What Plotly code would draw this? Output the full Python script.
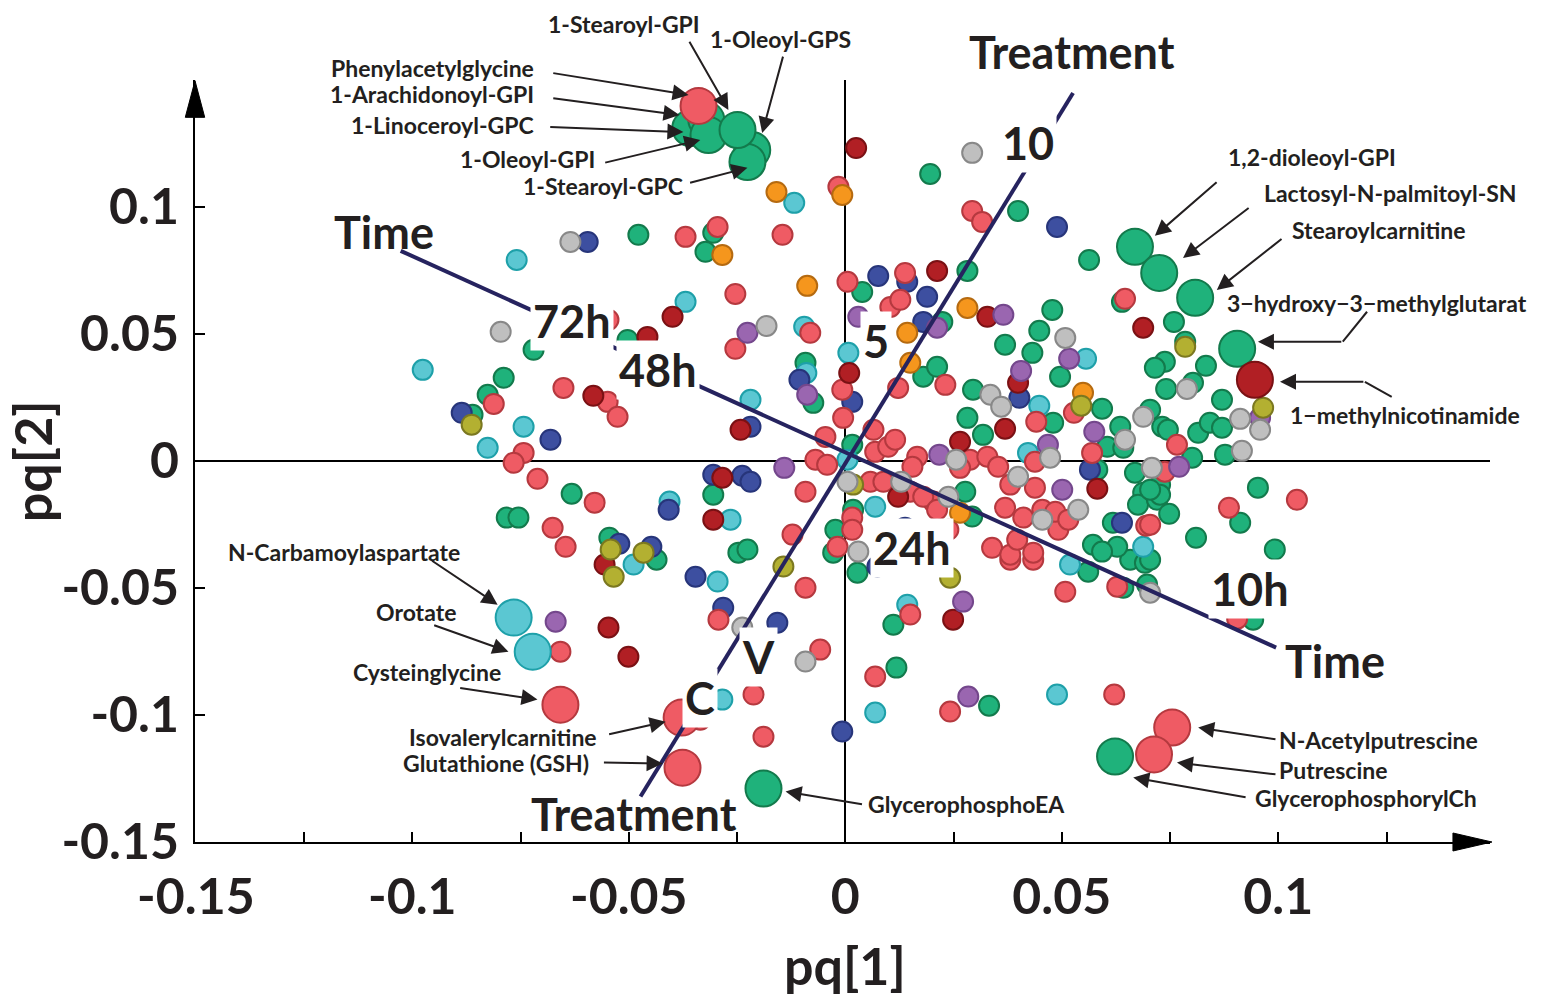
import plotly.graph_objects as go

FONT = "Lato"
INK = "#231f20"

# ---------------- data (pq[1], pq[2]) ----------------
green_pts = [(-0.0478, 0.0890), (-0.0305, 0.0898), (-0.0323, 0.0823), (0.0196, 0.1130), (0.0399, 0.0984),
             (0.0563, 0.0791), (0.0282, 0.0748), (0.0039, 0.0665), (0.0478, 0.0594), (0.0639, 0.0626),
             (0.0759, 0.0547), (0.0224, 0.0547), (-0.0720, 0.0437), (-0.0503, 0.0476), (-0.0789, 0.0327),
             (-0.0826, 0.0260), (-0.0861, 0.0181), (-0.0632, -0.0130), (-0.0782, -0.0224), (-0.0755, -0.0224),
             (-0.0545, -0.0303), (-0.0436, -0.0390), (-0.0092, 0.0386), (-0.0074, 0.0228), (0.0016, 0.0063),
             (-0.0305, -0.0134), (0.0018, -0.0193), (-0.0023, -0.0272), (-0.0028, -0.0362), (-0.0247, -0.0362),
             (-0.0226, -0.0350), (0.0028, -0.0441), (0.0180, 0.0331), (0.0212, 0.0370), (0.0295, 0.0280),
             (0.0282, 0.0169), (0.0293, -0.0220), (0.0111, -0.0646), (0.0118, -0.0815), (0.0332, -0.0965),
             (0.0561, -0.0437), (0.0642, -0.0500), (0.0697, -0.0488), (0.0658, -0.0390), (0.0692, -0.0402),
             (0.0448, 0.0512), (0.0369, 0.0457), (0.0432, 0.0425), (0.0496, 0.0331), (0.0318, 0.0102),
             (0.0480, 0.0150), (0.0593, 0.0205), (0.0605, 0.0055), (0.0642, 0.0051), (0.0635, 0.0134),
             (0.0704, 0.0201), (0.0732, 0.0134), (0.0745, 0.0122), (0.0801, 0.0012), (0.0669, -0.0047),
             (0.0727, -0.0094), (0.0688, -0.0126), (0.0676, -0.0173), (0.0720, -0.0154), (0.0748, -0.0209),
             (0.0618, -0.0244), (0.0628, -0.0339), (0.0572, -0.0331), (0.0912, -0.0244), (0.0953, -0.0106),
             (0.0810, -0.0303), (0.0992, -0.0350), (0.0738, 0.0390), (0.0785, 0.0469), (0.0715, 0.0366),
             (0.0741, 0.0283), (0.0803, 0.0307), (0.0833, 0.0374), (0.0870, 0.0240), (0.0815, 0.0110),
             (0.0842, 0.0150), (0.0877, 0.0024), (0.0593, -0.0358), (0.0582, -0.0035), (0.0870, 0.0130),
             (0.0727, -0.0134), (0.0704, -0.0114), (0.0704, -0.0390), (0.0942, -0.0626), (0.0277, -0.0122)]

red_pts = [(-0.0016, 0.1079), (0.0293, 0.0984), (0.0316, 0.0941), (-0.0295, 0.0921), (-0.0369, 0.0882),
           (-0.0145, 0.0890), (0.0005, 0.0705), (-0.0254, 0.0657), (0.0138, 0.0740), (0.0646, 0.0638),
           (-0.0547, 0.0555), (0.0104, 0.0606), (0.0127, 0.0634), (-0.0254, 0.0441), (-0.0081, 0.0504),
           (-0.0007, 0.0280), (-0.0005, 0.0169), (-0.0046, 0.0094), (0.0065, 0.0122), (0.0069, 0.0035),
           (0.0099, 0.0055), (0.0115, 0.0083), (-0.0069, 0.0004), (-0.0042, -0.0016), (-0.0092, -0.0122),
           (0.0058, -0.0083), (0.0088, -0.0083), (0.0150, -0.0122), (0.0166, 0.0016), (0.0155, -0.0024),
           (0.0288, 0.0004), (0.0265, -0.0028), (0.0203, -0.0161), (0.0180, -0.0142), (0.0212, -0.0193),
           (-0.0122, -0.0291), (0.0016, -0.0224), (0.0016, -0.0272), (-0.0018, -0.0339), (0.0231, 0.0299),
           (0.0122, 0.0287), (-0.0812, 0.0224), (-0.0651, 0.0287), (-0.0549, 0.0232), (-0.0526, 0.0173),
           (-0.0743, 0.0031), (-0.0766, -0.0008), (-0.0711, -0.0071), (-0.0579, -0.0165), (-0.0676, -0.0264),
           (-0.0646, -0.0339), (-0.0658, -0.0752), (-0.0293, -0.0626), (-0.0092, -0.0500), (-0.0058, -0.0744),
           (-0.0212, -0.0921), (-0.0335, -0.1020), (-0.0189, -0.1087), (0.0150, -0.0606), (0.0069, -0.0850),
           (0.0242, -0.0988), (0.0621, -0.0921), (0.0508, -0.0516), (0.0628, -0.0496), (0.0381, -0.0390),
           (0.0434, -0.0390), (0.0441, 0.0154), (0.0528, 0.0189), (0.0570, 0.0031), (0.0438, -0.0004),
           (0.0766, 0.0063), (0.0738, -0.0043), (0.0695, -0.0256), (0.0886, -0.0185), (0.0328, 0.0016),
           (0.0353, -0.0024), (0.0381, -0.0094), (0.0438, -0.0106), (0.0369, -0.0185), (0.0411, -0.0224),
           (0.0455, -0.0193), (0.0492, -0.0272), (0.0485, -0.0201), (0.0515, -0.0232), (0.0339, -0.0343),
           (0.0381, -0.0370), (0.0434, -0.0362), (0.0397, -0.0311), (0.1043, -0.0154), (0.0905, -0.0622),
           (0.0704, -0.0252), (0.0238, -0.0272)]

darkred_pts = [(0.0025, 0.1232), (0.0212, 0.0748), (0.0328, 0.0567), (0.0688, 0.0524), (-0.0399, 0.0567),
               (-0.0457, 0.0488), (0.0009, 0.0346), (-0.0242, 0.0122), (-0.0284, -0.0067), (-0.0305, -0.0232),
               (0.0122, -0.0142), (0.0265, 0.0075), (-0.0582, 0.0256), (-0.0556, -0.0409), (-0.0547, -0.0657),
               (-0.0501, -0.0772), (0.0249, -0.0626), (0.0399, 0.0307), (0.0369, 0.0126), (0.0582, -0.0110)]

grey_pts = [(0.0293, 0.1213), (-0.0635, 0.0862), (-0.0182, 0.0531), (-0.0796, 0.0508), (0.0005, -0.0083),
            (0.0129, -0.0083), (0.0256, 0.0004), (0.0238, -0.0142), (0.0030, -0.0358), (-0.0238, -0.0657),
            (-0.0092, -0.0791), (0.0704, -0.0520), (0.0508, 0.0484), (0.0335, 0.0260), (0.0360, 0.0213),
            (0.0473, 0.0012), (0.0646, 0.0083), (0.0688, 0.0173), (0.0708, -0.0028), (0.0789, 0.0283),
            (0.0916, 0.0039), (0.0912, 0.0165), (0.0958, 0.0122), (0.0399, -0.0063), (0.0455, -0.0232),
            (0.0538, -0.0193)]

cyan_pts = [(-0.0118, 0.1016), (-0.0759, 0.0791), (-0.0369, 0.0626), (-0.0095, 0.0528), (-0.0090, 0.0346),
            (0.0007, 0.0425), (-0.0219, 0.0240), (0.0005, 0.0004), (-0.0265, -0.0232), (0.0069, -0.0181),
            (-0.0295, -0.0476), (-0.0976, 0.0358), (-0.0743, 0.0134), (-0.0826, 0.0051), (-0.0489, -0.0409),
            (-0.0406, -0.0161), (-0.0284, -0.0941), (0.0143, -0.0567), (0.0069, -0.0992), (0.0489, -0.0921),
            (0.0519, -0.0409), (0.0556, 0.0402), (0.0448, 0.0217), (0.0422, 0.0031), (0.0688, -0.0339)]

blue_pts = [(-0.0595, 0.0862), (0.0489, 0.0921), (0.0076, 0.0728), (0.0143, 0.0705), (0.0189, 0.0646),
            (0.0180, 0.0547), (-0.0106, 0.0319), (0.0016, 0.0232), (-0.0219, 0.0134), (-0.0305, -0.0055),
            (-0.0238, -0.0059), (-0.0219, -0.0083), (-0.0346, -0.0457), (0.0074, -0.0417), (-0.0886, 0.0189),
            (-0.0681, 0.0083), (-0.0522, -0.0327), (-0.0448, -0.0339), (-0.0408, -0.0193), (-0.0282, -0.0579),
            (-0.0157, -0.0638), (-0.0007, -0.1067), (0.0402, 0.0248), (0.0639, -0.0244), (0.0565, -0.0035),
            (0.0138, -0.0264)]

orange_pts = [(-0.0007, 0.1047), (-0.0159, 0.1059), (-0.0284, 0.0811), (-0.0088, 0.0689), (0.0282, 0.0602),
              (0.0150, 0.0386), (0.0143, 0.0504), (0.0265, -0.0205), (0.0549, 0.0268)]

purple_pts = [(0.0212, 0.0524), (0.0365, 0.0575), (0.0030, 0.0567), (-0.0226, 0.0504), (-0.0088, 0.0260),
              (-0.0141, -0.0028), (0.0217, 0.0024), (-0.0669, -0.0634), (0.0272, -0.0555), (0.0284, -0.0929),
              (0.0517, 0.0402), (0.0406, 0.0354), (0.0575, 0.0114), (0.0468, 0.0063), (0.0771, -0.0024),
              (0.0501, -0.0114), (0.0958, 0.0169)]

olive_pts = [(0.0018, -0.0094), (-0.0143, -0.0417), (-0.0863, 0.0142), (-0.0542, -0.0350), (-0.0535, -0.0457),
             (-0.0466, -0.0362), (0.0242, -0.0461), (0.0545, 0.0217), (0.0785, 0.0449), (0.0965, 0.0209)]

# highlighted metabolites (large markers)
big_green_names = ["1-Linoceroyl-GPC", "1-Arachidonoyl-GPI", "1-Oleoyl-GPI", "1-Oleoyl-GPS", "1-Stearoyl-GPC",
                   "1-Stearoyl-GPI", "1,2-dioleoyl-GPI", "Lactosyl-N-palmitoyl-SN", "Stearoylcarnitine",
                   "3-hydroxy-3-methylglutarat", "GlycerophosphoEA", "GlycerophosphorylCh"]
big_green_x = [-0.0358, -0.0321, -0.0316, -0.0215, -0.0226, -0.0249, 0.0669, 0.0725, 0.0808, 0.0905, -0.0189, 0.0623]
big_green_y = [0.1311, 0.1343, 0.1283, 0.1224, 0.1177, 0.1303, 0.0843, 0.0740, 0.0642, 0.0441, -0.1291, -0.1165]

big_red_names = ["Phenylacetylglycine", "Cysteinglycine", "Isovalerylcarnitine", "Glutathione (GSH)",
                 "N-Acetylputrescine", "Putrescine"]
big_red_x = [-0.0339, -0.0658, -0.0378, -0.0376, 0.0755, 0.0713]
big_red_y = [0.1398, -0.0961, -0.1012, -0.1209, -0.1051, -0.1157]

big_cyan_names = ["N-Carbamoylaspartate", "Orotate"]
big_cyan_x = [-0.0766, -0.0722]
big_cyan_y = [-0.0618, -0.0752]

big_darkred_names = ["1-methylnicotinamide"]
big_darkred_x = [0.0946]
big_darkred_y = [0.0319]

# biplot direction lines
treatment_x = [-0.0473, 0.0526]
treatment_y = [-0.1323, 0.1449]
time_x = [-0.1027, 0.0995]
time_y = [0.0827, -0.0736]

# axis ticks
tick_vals = [-0.15, -0.1, -0.05, 0, 0.05, 0.1]
tick_text = ["-0.15", "-0.1", "-0.05", "0", "0.05", "0.1"]

X_RANGE = [-0.1502, 0.1489]
Y_RANGE = [-0.1502, 0.15]

# ---------------- figure ----------------
STY = {
    "green": ("#1fb27b", "#137a4c"),
    "red": ("#ef5b64", "#b5393f"),
    "darkred": ("#b11f24", "#7a1114"),
    "grey": ("#bfbfbf", "#888888"),
    "cyan": ("#5bc7d2", "#1ea0a9"),
    "blue": ("#3d4fa0", "#27357a"),
    "orange": ("#f5961d", "#b56a10"),
    "purple": ("#9a66b0", "#74478c"),
    "olive": ("#b3b031", "#7b7820"),
}

fig = go.Figure()


def add_pts(xs, ys, key, size):
    fill, edge = STY[key]
    fig.add_trace(go.Scatter(x=xs, y=ys, mode="markers", hoverinfo="skip", showlegend=False,
                             cliponaxis=False,
                             marker=dict(size=size, color=fill, opacity=1,
                                         line=dict(color=edge, width=2))))


for key, pts in [("green", green_pts), ("cyan", cyan_pts), ("blue", blue_pts), ("red", red_pts),
                 ("darkred", darkred_pts), ("orange", orange_pts), ("purple", purple_pts),
                 ("olive", olive_pts), ("grey", grey_pts)]:
    add_pts([p[0] for p in pts], [p[1] for p in pts], key, 20)

add_pts(big_green_x, big_green_y, "green", 36)
add_pts(big_cyan_x, big_cyan_y, "cyan", 36)
add_pts(big_red_x, big_red_y, "red", 36)
add_pts(big_darkred_x, big_darkred_y, "darkred", 36)

LINE_C = "#26235f"
for lx, ly in [(treatment_x, treatment_y), (time_x, time_y)]:
    fig.add_trace(go.Scatter(x=lx, y=ly, mode="lines", hoverinfo="skip", showlegend=False,
                             line=dict(color=LINE_C, width=4)))


def to_paper(x, y):
    return ((x - X_RANGE[0]) / (X_RANGE[1] - X_RANGE[0]),
            (y - Y_RANGE[0]) / (Y_RANGE[1] - Y_RANGE[0]))


def label(text, x, y, size=23, xanchor="left", bg=None):
    px, py = to_paper(x, y)
    fig.add_annotation(x=px, y=py, xref="paper", yref="paper", text=text, showarrow=False,
                       xanchor=xanchor, yanchor="middle",
                       font=dict(family=FONT, size=size, color=INK, weight="bold"),
                       bgcolor=bg, borderpad=2)


def arrow(tx, ty, ax, ay):
    fig.add_annotation(x=tx, y=ty, ax=ax, ay=ay, xref="x", yref="y", axref="x", ayref="y",
                       text="", showarrow=True, arrowhead=2, arrowsize=1.6, arrowwidth=2,
                       arrowcolor=INK)


# compound labels
label("1-Stearoyl-GPI", -0.0328, 0.1720, xanchor="right")
label("1-Oleoyl-GPS", -0.0150, 0.1661, xanchor="center")
label("Phenylacetylglycine", -0.0711, 0.1547, xanchor="right")
label("1-Arachidonoyl-GPI", -0.0711, 0.1445, xanchor="right")
label("1-Linoceroyl-GPC", -0.0711, 0.1323, xanchor="right")
label("1-Oleoyl-GPI", -0.0572, 0.1189, xanchor="right")
label("1-Stearoyl-GPC", -0.0367, 0.1083, xanchor="right")
label("1,2-dioleoyl-GPI", 0.0877, 0.1197)
label("Lactosyl-N-palmitoyl-SN", 0.0960, 0.1055)
label("Stearoylcarnitine", 0.1025, 0.0909)
label("3\u2212hydroxy\u22123\u2212methylglutarat", 0.0875, 0.0622)
label("1\u2212methylnicotinamide", 0.1020, 0.0181)
label("N-Carbamoylaspartate", -0.1433, -0.0358)
label("Orotate", -0.1092, -0.0594)
label("Cysteinglycine", -0.1145, -0.0831)
label("Isovalerylcarnitine", -0.1015, -0.1087)
label("Glutathione (GSH)", -0.1029, -0.1189)
label("GlycerophosphoEA", 0.0046, -0.1354)
label("N-Acetylputrescine", 0.0995, -0.1102)
label("Putrescine", 0.0995, -0.1220)
label("GlycerophosphorylCh", 0.0939, -0.1327)

# arrows (tip, tail)
arrow(-0.0362, 0.1441, -0.0678, 0.1528)
arrow(-0.0383, 0.1362, -0.0678, 0.1429)
arrow(-0.0374, 0.1295, -0.0685, 0.1315)
arrow(-0.0335, 0.1264, -0.0558, 0.1173)
arrow(-0.0226, 0.1154, -0.0362, 0.1094)
arrow(-0.0270, 0.1382, -0.0362, 0.1657)
arrow(-0.0192, 0.1291, -0.0143, 0.1598)
arrow(0.0715, 0.0886, 0.0861, 0.1102)
arrow(0.0780, 0.0799, 0.0935, 0.1000)
arrow(0.0858, 0.0673, 0.1011, 0.0878)
arrow(0.0953, 0.0469, 0.1149, 0.0469)
arrow(0.1004, 0.0311, 0.1200, 0.0311)
arrow(-0.0803, -0.0567, -0.0958, -0.0390)
arrow(-0.0778, -0.0752, -0.0953, -0.0646)
arrow(-0.0711, -0.0941, -0.0893, -0.0894)
arrow(-0.0415, -0.1028, -0.0549, -0.1079)
arrow(-0.0422, -0.1193, -0.0561, -0.1189)
arrow(-0.0138, -0.1303, 0.0042, -0.1354)
arrow(0.0815, -0.1051, 0.0997, -0.1098)
arrow(0.0766, -0.1189, 0.0997, -0.1236)
arrow(0.0665, -0.1248, 0.0928, -0.1327)

# elbow connectors
for x0, y0, x1, y1 in [(0.1205, 0.0587, 0.1149, 0.0469), (0.1262, 0.0252, 0.1200, 0.0311)]:
    fig.add_shape(type="line", xref="x", yref="y", x0=x0, y0=y0, x1=x1, y1=y1,
                  line=dict(color=INK, width=2))

# biplot labels
label("Treatment", 0.0524, 0.1610, size=45, xanchor="center")
label("Time", -0.1066, 0.0902, size=45, xanchor="center")
label("Time", 0.1131, -0.0787, size=45, xanchor="center")
label("Treatment", -0.0487, -0.1390, size=45, xanchor="center")
for t, x, y in [("10", 0.0422, 0.1252), ("5", 0.0072, 0.0472), ("V", -0.0201, -0.0772), ("C", -0.0335, -0.0933),
                ("72h", -0.0632, 0.0551), ("48h", -0.0432, 0.0358), ("24h", 0.0155, -0.0343),
                ("10h", 0.0935, -0.0504)]:
    label(t, x, y, size=45, xanchor="center", bg="white")

# axis titles
fig.add_annotation(x=0.5019, y=-0.1614, xref="paper", yref="paper", text="pq[1]", showarrow=False,
                   xanchor="center", yanchor="middle",
                   font=dict(family=FONT, size=52, color=INK, weight="bold"))
fig.add_annotation(x=-0.1257, y=0.5, xref="paper", yref="paper", text="pq[2]", showarrow=False,
                   xanchor="center", yanchor="middle",
                   textangle=-90, font=dict(family=FONT, size=52, color=INK, weight="bold"))

# axis arrowheads
fig.add_shape(type="path", xref="paper", yref="paper",
              path="M 0.9714 0.0118 L 1.0015 0 L 0.9714 -0.0118 Z",
              fillcolor="black", line=dict(color="black", width=1))
fig.add_shape(type="path", xref="paper", yref="paper",
              path="M -0.0075 0.951 L 0 0.999 L 0.0075 0.951 Z",
              fillcolor="black", line=dict(color="black", width=1))

axis_common = dict(tickmode="array", tickvals=tick_vals, ticktext=tick_text,
                   ticks="inside", ticklen=10, tickwidth=2, tickcolor="black",
                   showline=True, linecolor="black", linewidth=2, mirror=False,
                   zeroline=True, zerolinecolor="black", zerolinewidth=2, showgrid=False,
                   tickfont=dict(family=FONT, size=50, color=INK, weight="bold"))

fig.update_layout(
    width=1543, height=1001,
    margin=dict(l=195, r=53, t=80, b=159),
    plot_bgcolor="white", paper_bgcolor="white",
    showlegend=False,
    xaxis=dict(range=X_RANGE, ticklabelstandoff=10,
               minor=dict(tickmode="linear", tick0=0, dtick=0.025, ticks="inside", ticklen=10,
                          tickwidth=2, tickcolor="black"),
               **axis_common),
    yaxis=dict(range=Y_RANGE, ticklabelstandoff=4, **axis_common),
)

fig.write_html("out.html", config={"displayModeBar": False},
               post_script="document.body.style.margin='0';document.body.style.overflow='hidden';")
